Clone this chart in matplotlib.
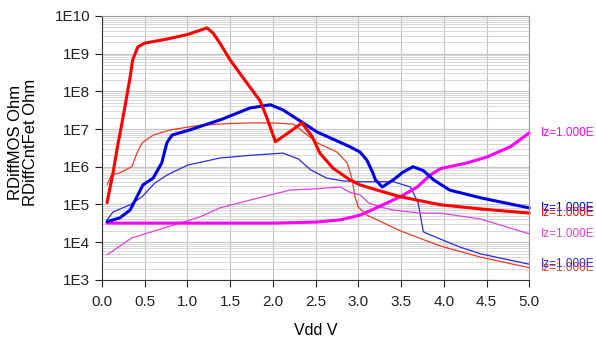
import numpy as np
import matplotlib
matplotlib.use("Agg")
import matplotlib.pyplot as plt
from matplotlib.ticker import LogLocator, FuncFormatter, MultipleLocator

plt.rcParams['font.family'] = ['Liberation Sans', 'DejaVu Sans']

# RDiffMOS (thick) / RDiffCntFet (thin) vs Vdd, one curve per Iz
mos_red_x = [0.06, 0.13, 0.19, 0.22, 0.27, 0.33, 0.36, 0.42, 0.50, 0.75, 1.00, 1.23, 1.30, 1.38, 1.50,
             1.67, 1.85, 1.93, 2.03, 2.18, 2.34, 2.46, 2.55, 2.70, 2.90, 3.02, 3.22, 3.49, 3.96, 4.43, 5.0]
mos_red_y = [1.12e5, 6.9e5, 4.3e6, 9.5e6, 4.0e7, 2.4e8, 6.8e8, 1.5e9, 1.9e9, 2.4e9, 3.2e9, 4.8e9, 3.5e9, 1.9e9, 6.8e8,
             2.0e8, 5.6e7, 2.0e7, 4.6e6, 7.9e6, 1.45e7, 6.3e6, 2.3e6, 9.3e5, 4.5e5, 3.3e5, 2.4e5, 1.6e5, 9.8e4, 7.6e4, 5.9e4]

cnt_red_x = [0.06, 0.11, 0.21, 0.35, 0.41, 0.47, 0.60, 0.80, 1.15, 1.50, 1.73, 2.00, 2.24, 2.52, 2.75, 2.87,
             2.93, 2.96, 3.00, 3.10, 3.22, 3.49, 3.96, 4.43, 5.0]
cnt_red_y = [3.3e5, 6.0e5, 6.9e5, 1.0e6, 2.3e6, 4.3e6, 6.9e6, 9.5e6, 1.26e7, 1.4e7, 1.45e7, 1.45e7, 1.35e7, 4.3e6, 2.45e6, 1.26e6,
             4.5e5, 1.6e5, 8.5e4, 5.2e4, 3.9e4, 2.0e4, 7.9e3, 4.0e3, 2.1e3]

mos_blue_x = [0.06, 0.21, 0.33, 0.41, 0.48, 0.60, 0.70, 0.76, 0.82, 1.03, 1.40, 1.73, 1.97, 2.12, 2.52, 2.90,
              3.02, 3.10, 3.17, 3.20, 3.28, 3.41, 3.52, 3.64, 3.76, 3.88, 4.07, 4.43, 5.0]
mos_blue_y = [3.5e4, 4.4e4, 7.1e4, 1.6e5, 3.3e5, 5.0e5, 1.26e6, 4.3e6, 6.9e6, 9.5e6, 1.8e7, 3.6e7, 4.4e7, 3.2e7, 8.3e6, 3.4e6,
              2.45e6, 1.5e6, 6.9e5, 4.5e5, 2.9e5, 4.5e5, 7.1e5, 1.0e6, 7.9e5, 4.5e5, 2.4e5, 1.5e5, 8.1e4]

cnt_blue_x = [0.06, 0.13, 0.33, 0.47, 0.62, 0.76, 1.00, 1.38, 1.73, 2.12, 2.30, 2.44, 2.63, 2.82, 3.02, 3.41,
              3.61, 3.70, 3.76, 3.80, 4.19, 4.43, 5.0]
cnt_blue_y = [3.9e4, 6.3e4, 9.8e4, 1.6e5, 3.7e5, 6.0e5, 1.1e6, 1.7e6, 2.0e6, 2.3e6, 1.6e6, 8.3e5, 5.0e5, 4.2e5, 4.0e5, 4.0e5,
              2.9e5, 1.1e5, 1.9e4, 1.7e4, 7.4e3, 4.9e3, 2.6e3]

mos_mag_x = [0.06, 1.0, 2.0, 2.5, 2.79, 3.02, 3.23, 3.49, 3.69, 3.84, 3.96, 4.27, 4.5, 4.78, 5.0]
mos_mag_y = [3.2e4, 3.2e4, 3.2e4, 3.4e4, 3.9e4, 5.2e4, 8.5e4, 1.6e5, 2.9e5, 6.0e5, 8.9e5, 1.26e6, 1.8e6, 3.4e6, 7.9e6]

cnt_mag_x = [0.06, 0.35, 0.76, 1.15, 1.38, 1.73, 2.2, 2.5, 2.79, 2.9, 3.02, 3.12, 3.26, 3.41, 3.72, 3.96, 4.43, 5.0]
cnt_mag_y = [4.6e3, 1.3e4, 2.5e4, 4.7e4, 8.1e4, 1.3e5, 2.4e5, 2.6e5, 2.9e5, 2.1e5, 1.8e5, 1.1e5, 8.5e4, 7.1e4, 5.9e4, 5.9e4,
             4.1e4, 1.66e4]

end_label = "Iz=1.000E"

fig = plt.figure(figsize=(5.96, 3.38), dpi=100)
ax = fig.add_axes([0.171, 0.172, 0.717, 0.781])

curves = [
    (cnt_red_x, cnt_red_y, "#f03a2a", 0.9),
    (cnt_blue_x, cnt_blue_y, "#2a2ae0", 0.9),
    (cnt_mag_x, cnt_mag_y, "#e040e0", 0.9),
    (mos_mag_x, mos_mag_y, "#ff00ff", 2.2),
    (mos_blue_x, mos_blue_y, "#0000e8", 2.2),
    (mos_red_x, mos_red_y, "#ff0000", 2.2),
]
for xs, ys, col, lw in curves:
    ax.plot(xs, ys, color=col, lw=lw, solid_capstyle="round", clip_on=False)
    ax.annotate(end_label, xy=(xs[-1], ys[-1]), xytext=(8.5, 0), textcoords="offset points",
                color=col, fontsize=8.5, va="center", ha="left", annotation_clip=False)

ax.set_yscale("log")
ax.set_xlim(0, 5)
ax.set_ylim(1e3, 1e10)
ax.xaxis.set_major_locator(MultipleLocator(0.5))
ax.xaxis.set_major_formatter(FuncFormatter(lambda v, p: f"{v:.1f}"))
ax.yaxis.set_major_locator(LogLocator(base=10, numticks=10))
ax.yaxis.set_minor_locator(LogLocator(base=10, subs=np.arange(2, 10), numticks=20))
ax.yaxis.set_major_formatter(FuncFormatter(lambda v, p: f"1E{int(round(np.log10(v)))}"))
ax.yaxis.set_minor_formatter(FuncFormatter(lambda v, p: ""))

ax.grid(which="major", color="#c4c4c4", lw=0.8)
ax.grid(which="minor", axis="y", color="#d2d2d2", lw=0.6)
ax.set_axisbelow(True)

ax.tick_params(which="major", direction="out", length=5, width=0.8, labelsize=11, colors="#222222")
ax.tick_params(axis="x", pad=6)
ax.tick_params(which="minor", length=0)
for s in ["top", "right"]:
    ax.spines[s].set_color("#999999")
for s in ["left", "bottom"]:
    ax.spines[s].set_color("#333333")

ax.set_xlabel("Vdd V", fontsize=11.5, labelpad=10)
ax.set_ylabel("RDiffMOS Ohm\nRDiffCntFet Ohm", fontsize=12, linespacing=0.95)
ax.yaxis.set_label_coords(-0.15, 0.52)

fig.savefig("out.png", dpi=100)
